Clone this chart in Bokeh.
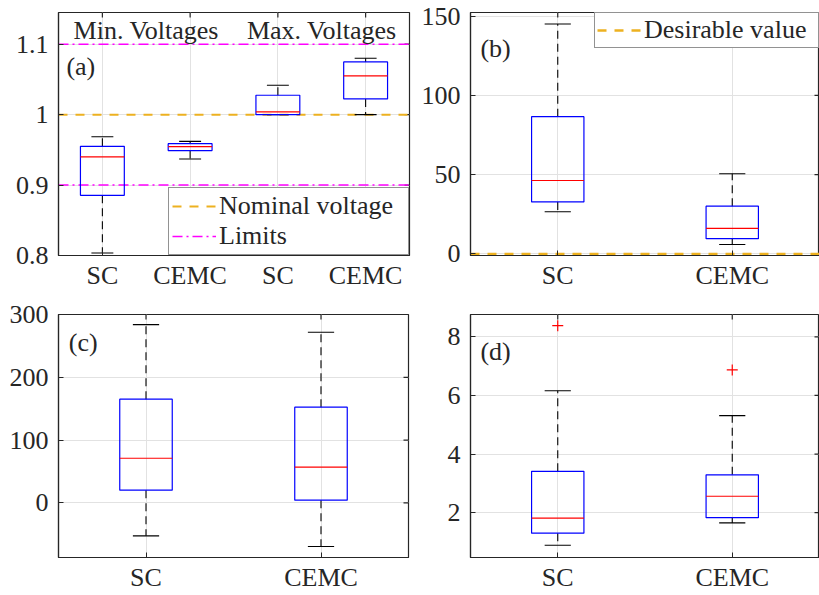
import math
from bokeh.plotting import figure
from bokeh.layouts import column, row
from bokeh.models import (Range1d, FixedTicker, Legend, LegendItem, Label,
                          ColumnDataSource)
from bokeh.transform import dodge
from bokeh.embed import file_html
from bokeh.resources import INLINE

FONT = "Liberation Serif"
FS = "26px"
INK = "#262626"
GRID = "#e2e2e2"
ORANGE = "#EDB120"
MAGENTA = "#FF00FF"

# ---------------- data ----------------
# (a) voltages
a_pos = [1, 2, 3, 4]
a_labels = ["SC", "CEMC", "SC", "CEMC"]
a_lo = [0.8035, 0.937, 1.000, 1.000]
a_q1 = [0.8854, 0.9489, 1.000, 1.0223]
a_med = [0.940, 0.9545, 1.004, 1.055]
a_q3 = [0.955, 0.9588, 1.0275, 1.0748]
a_hi = [0.9687, 0.962, 1.0417, 1.080]
a_nominal = 1.0
a_limits = [0.9, 1.1]
a_yticks = [0.8, 0.9, 1.0, 1.1]
a_ytick_labels = ["0.8", "0.9", "1", "1.1"]
a_groups = ["Min. Voltages", "Max. Voltages"]

# (b)
b_pos = [1, 2]
b_labels = ["SC", "CEMC"]
b_lo = [26.6, 5.9]
b_q1 = [32.8, 9.6]
b_med = [46.3, 16.1]
b_q3 = [86.6, 30.1]
b_hi = [145.0, 50.6]
b_desirable = 0
b_yticks = [0, 50, 100, 150]

# (c)
c_pos = [1, 2]
c_labels = ["SC", "CEMC"]
c_lo = [-52.5, -69.6]
c_q1 = [20.2, 4.3]
c_med = [71.1, 56.8]
c_q3 = [165.1, 152.4]
c_hi = [283.8, 271.7]
c_yticks = [0, 100, 200, 300]

# (d)
d_pos = [1, 2]
d_labels = ["SC", "CEMC"]
d_lo = [0.89, 1.65]
d_q1 = [1.30, 1.83]
d_med = [1.81, 2.56]
d_q3 = [3.41, 3.29]
d_hi = [6.16, 5.31]
d_out_x = [1, 2]
d_out_y = [8.38, 6.87]
d_yticks = [2, 4, 6, 8]


def mirror_ticks(p, xticks, yticks):
    xr, yr = p.x_range, p.y_range
    # inward ticks on the right edge and top edge (box-on style)
    p.ray(x=[xr.end] * len(yticks), y=yticks, length=5, length_units="screen",
          angle=math.pi, line_color=INK, line_width=1.2)
    p.ray(x=xticks, y=[yr.end] * len(xticks), length=5, length_units="screen",
          angle=-math.pi / 2, line_color=INK, line_width=1.2)


def make_fig(w, h, bl, br, bt, bb, xr, yr, xpos, xlabels, yticks, ylabels=None):
    p = figure(width=w, height=h, x_range=Range1d(*xr), y_range=Range1d(*yr),
               output_backend="svg", toolbar_location=None, title=None,
               min_border_left=bl, min_border_right=br,
               min_border_top=bt, min_border_bottom=bb)
    p.outline_line_color = INK
    p.outline_line_width = 1.2
    p.background_fill_color = "white"
    p.border_fill_color = "white"
    p.xaxis.ticker = FixedTicker(ticks=xpos)
    p.xaxis.major_label_overrides = {x: l for x, l in zip(xpos, xlabels)}
    p.yaxis.ticker = FixedTicker(ticks=yticks)
    if ylabels is not None:
        p.yaxis.major_label_overrides = {t: l for t, l in zip(yticks, ylabels)}
    for ax in (p.xaxis[0], p.yaxis[0]):
        ax.axis_line_color = INK
        ax.axis_line_width = 1.2
        ax.major_tick_in = 5
        ax.major_tick_out = 0
        ax.minor_tick_line_color = None
        ax.major_tick_line_color = INK
        ax.major_label_text_font = FONT
        ax.major_label_text_font_size = FS
        ax.major_label_text_color = INK
    p.yaxis.major_label_standoff = 10
    p.xaxis.major_label_standoff = 5
    p.xgrid.grid_line_color = GRID
    p.ygrid.grid_line_color = GRID
    p.xgrid.grid_line_width = 1
    p.ygrid.grid_line_width = 1
    mirror_ticks(p, xpos, yticks)
    return p


def hline(p, v, color, dash, width):
    xr = p.x_range
    return p.line(x=[xr.start, xr.end], y=[v, v], line_color=color,
                  line_dash=dash, line_width=width)


def boxes(p, x, lo, q1, med, q3, hi, w):
    src = ColumnDataSource(dict(x=x, lo=lo, q1=q1, med=med, q3=q3, hi=hi))
    p.segment(x0="x", y0="q3", x1="x", y1="hi", source=src, line_color="black",
              line_dash="8 5", line_width=1.1)
    p.segment(x0="x", y0="q1", x1="x", y1="lo", source=src, line_color="black",
              line_dash="8 5", line_width=1.1)
    p.segment(x0=dodge("x", -w / 4), y0="hi", x1=dodge("x", w / 4), y1="hi",
              source=src, line_color="black", line_width=1.1)
    p.segment(x0=dodge("x", -w / 4), y0="lo", x1=dodge("x", w / 4), y1="lo",
              source=src, line_color="black", line_width=1.1)
    p.vbar(x="x", width=w, bottom="q1", top="q3", source=src, fill_color=None,
           line_color="#0000FF", line_width=1.2)
    p.segment(x0=dodge("x", -w / 2), y0="med", x1=dodge("x", w / 2), y1="med",
              source=src, line_color="#FF0000", line_width=1.2)


def tag(p, x, y, text):
    p.add_layout(Label(x=x, y=y, text=text, text_font=FONT, text_font_size=FS,
                       text_color=INK, text_align="left", text_baseline="middle"))


def legend(p, items, loc, pad, lw):
    lg = Legend(items=items, location=loc, border_line_color=INK, border_line_width=1.2,
                label_text_font=FONT, label_text_font_size=FS, label_text_color=INK,
                glyph_width=44, glyph_height=30, label_height=30, label_width=lw,
                label_standoff=3, spacing=0, padding=pad, margin=0,
                background_fill_alpha=1)
    p.add_layout(lg)


# ---------------- (a) ----------------
pa = make_fig(413, 296, 58, 4, 12, 40, (0.5, 4.5), (0.8, 1.145), a_pos, a_labels,
              a_yticks, a_ytick_labels)
r_lim = None
for lim in a_limits:
    r_lim = hline(pa, lim, MAGENTA, "10 4 2 4", 1.5)
r_nom = hline(pa, a_nominal, ORANGE, "9 8", 2)
boxes(pa, a_pos, a_lo, a_q1, a_med, a_q3, a_hi, 0.5)
for i, g in enumerate(a_groups):
    xc = (a_pos[2 * i] + a_pos[2 * i + 1]) / 2
    pa.add_layout(Label(x=xc, y=1.12, text=g, text_font=FONT, text_font_size=FS,
                        text_color=INK, text_align="center", text_baseline="middle"))
tag(pa, 0.59, 1.068, "(a)")
legend(pa, [LegendItem(label="Nominal voltage", renderers=[r_nom]),
            LegendItem(label="Limits", renderers=[r_lim])], "bottom_right", 3, 186)

# ---------------- (b) ----------------
pb = make_fig(406, 296, 57, 0, 12, 41, (0.5, 2.5), (-1.0, 152.3), b_pos, b_labels, b_yticks)
boxes(pb, b_pos, b_lo, b_q1, b_med, b_q3, b_hi, 0.3)
r_des = hline(pb, b_desirable, ORANGE, "9 8", 2.5)
tag(pb, 0.557, 129.5, "(b)")
legend(pb, [LegendItem(label="Desirable value", renderers=[r_des])], "top_right", 2, 172)

# ---------------- (c) ----------------
pc = make_fig(413, 299, 58, 5, 18, 38, (0.5, 2.5), (-87, 300), c_pos, c_labels, c_yticks)
boxes(pc, c_pos, c_lo, c_q1, c_med, c_q3, c_hi, 0.3)
tag(pc, 0.559, 254.7, "(c)")

# ---------------- (d) ----------------
pd_ = make_fig(406, 299, 57, 0, 17, 38, (0.5, 2.5), (0.47, 8.76), d_pos, d_labels, d_yticks)
boxes(pd_, d_pos, d_lo, d_q1, d_med, d_q3, d_hi, 0.3)
pd_.scatter(x=d_out_x, y=d_out_y, marker="cross", size=11, line_color="#FF0000",
            line_width=1.2)
tag(pd_, 0.557, 7.49, "(d)")

layout = column(row(pa, pb), row(pc, pd_))
open("out.html", "w").write(file_html(layout, INLINE))
